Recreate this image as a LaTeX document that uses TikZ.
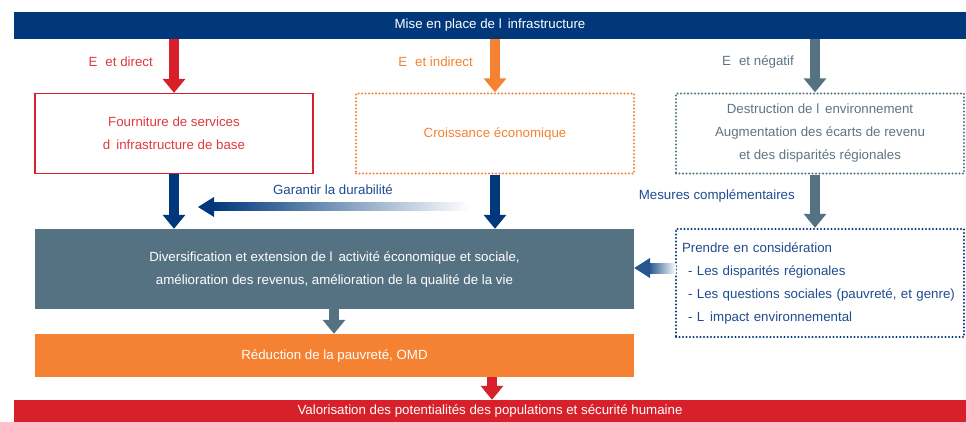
\documentclass[tikz,border=0pt]{standalone}
\usepackage{fontspec}
\setmainfont{Liberation Sans}
\usetikzlibrary{arrows.meta}
\definecolor{navy}{HTML}{00387B}
\definecolor{ired}{HTML}{D8202A}
\definecolor{tred}{HTML}{E0393E}
\definecolor{iorange}{HTML}{F58233}
\definecolor{slate}{HTML}{557282}
\definecolor{tslate}{HTML}{5E7482}
\definecolor{tnavy}{HTML}{1F4B8F}
\tikzset{
  bar/.style={minimum width=952pt, inner sep=0pt, text=white},
  box/.style={minimum width=278pt, minimum height=80pt, inner sep=0pt, align=center},
  dotbox/.style={line width=2.4pt, dash pattern=on 0pt off 3.5pt, line cap=round},
  blockarrow/.style={line width=10pt, -{Triangle[width=22pt,length=14pt]}},
  lbl/.style={inner sep=0pt, anchor=east},
}
\begin{document}
\begin{tikzpicture}[x=1pt,y=-1pt,font=\fontsize{13.3}{23}\selectfont]
\useasboundingbox (0,0) rectangle (966,422);
% top and bottom bars
\node[bar, fill=navy, minimum height=27pt] (top) at (490,25.5) {Mise en place de l\hspace{0.45em}infrastructure};
\node[bar, fill=ired, minimum height=22pt] (bot) at (490,411) {Valorisation des potentialités des populations et sécurité humaine};
% first row
\node[box, draw=ired, line width=1.2pt, text=tred] (b1) at (174,133.5) {Fourniture de services\\d\hspace{0.45em}infrastructure de base};
\node[box, draw=iorange, dotbox, text=iorange] (b2) at (495,133.5) {Croissance économique};
\node[box, draw=slate, dotbox, text=tslate, minimum width=288pt] (b3) at (820,133.5) {Destruction de l\hspace{0.45em}environnement\\Augmentation des écarts de revenu\\et des disparités régionales};
% second row
\node[box, fill=slate, text=white, minimum width=599pt] (big) at (334.5,269) {Diversification et extension de l\hspace{0.45em}activité économique et sociale,\\amélioration des revenus, amélioration de la qualité de la vie};
\node[box, draw=navy, dotbox, text=tnavy, minimum width=288pt, minimum height=108pt, align=left, text width=276pt] (b4) at (820,283) {Prendre en considération\\\hspace{6pt}- Les disparités régionales\\\hspace{6pt}- Les questions sociales (pauvreté, et genre)\\\hspace{6pt}- L\hspace{0.45em}impact environnemental};
% third row
\node[box, fill=iorange, text=white, minimum width=599pt, minimum height=43pt] (or) at (334.5,355.5) {Réduction de la pauvreté, OMD};
% labels
\node[lbl, text=tred] (l1) at (153,62) {E\hspace{0.6em}et direct};
\node[lbl, text=iorange] (l2) at (473,62) {E\hspace{0.6em}et indirect};
\node[lbl, text=tslate] (l3) at (794,62) {E\hspace{0.6em}et négatif};
\node[inner sep=0pt, text=tnavy] (l4) at (333,190) {Garantir la durabilité};
\node[lbl, text=tnavy] (l5) at (795,196) {Mesures complémentaires};
% arrows
\draw[blockarrow, ired] (top.south -| b1.north) -- (b1.north);
\draw[blockarrow, iorange] (top.south -| b2.north) -- (b2.north);
\coordinate (a3) at ([xshift=-5pt]b3.north);
\draw[blockarrow, slate] (top.south -| a3) -- (a3);
\draw[blockarrow, navy] (b1.south) -- (b1.south |- big.north);
\draw[blockarrow, navy] (b2.south) -- (b2.south |- big.north);
\coordinate (a4) at ([xshift=-5pt]b3.south);
\draw[blockarrow, slate] (a4) -- (a4 |- b4.north);
\coordinate (a5) at (334,0);
\draw[blockarrow, slate] (a5 |- big.south) -- (a5 |- or.north);
\coordinate (a6) at (492,0);
\draw[blockarrow, ired] (a6 |- or.south) -- (a6 |- bot.north);
% gradient arrows
\shade[left color=navy, right color=white] (212,203) rectangle (470,211);
\fill[navy] (198,207) -- (214,197) -- (214,217) -- cycle;
\shade[left color=navy!85, right color=white] (649,263) rectangle (676,273);
\fill[navy!85] (big.east |- 0,268) -- (650,258) -- (650,278) -- cycle;
\end{tikzpicture}
\end{document}
